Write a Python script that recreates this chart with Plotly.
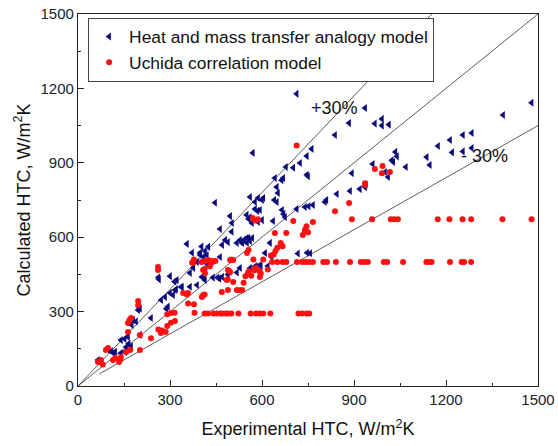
import plotly.graph_objects as go

# Heat and mass transfer analogy model (experimental, calculated)
hm_x = [713, 936, 884, 838, 968, 991, 991, 1014, 1386, 1479, 1284, 1255, 1213, 1174, 1220, 1255, 1284,
        1137, 1147, 1069, 1035, 1040, 1023, 1028, 1001, 1011, 961, 893, 887, 919, 936, 938, 844, 810, 805,
        766, 752, 740, 713, 750, 746, 746, 762, 724, 702, 678, 669, 642, 664, 648, 652, 640, 648, 604, 577,
        561, 570, 577, 593, 585, 665, 670, 675, 636, 600, 587, 567, 568, 717, 747, 757, 631, 561, 577, 593,
        535, 542, 550, 561, 587, 600, 550, 556, 560, 496, 502, 463, 501, 610, 626, 403, 425, 414, 398, 470,
        480, 489, 518, 528, 535, 551, 556, 398, 410, 420, 388, 414, 424, 463, 365, 376, 300, 322, 262, 264,
        404, 414, 410, 440, 455, 461, 470, 489, 494, 518, 528, 619, 365, 388, 316, 339, 284, 300, 315, 310,
        320, 336, 271, 288, 293, 238, 196, 198, 202, 170, 175, 180, 189, 202, 140, 152, 163, 157, 165, 173,
        98, 108, 115, 121, 140, 153, 65, 75, 447, 372, 355, 580, 596]
hm_y = [1178, 1121, 1060, 1012, 1058, 1077, 1050, 1054, 1093, 1142, 1020, 1012, 992, 968, 942, 946, 960,
        923, 891, 883, 944, 926, 910, 903, 863, 843, 895, 858, 786, 794, 802, 812, 774, 750, 742,
        730, 725, 722, 714, 846, 852, 927, 956, 899, 880, 883, 839, 839, 830, 802, 778, 750, 742, 758, 742,
        762, 940, 714, 710, 706, 710, 694, 681, 665, 669, 661, 657, 597, 534, 537, 535, 521, 476, 482, 488,
        577, 590, 597, 585, 758, 750, 690, 674, 680, 685, 657, 633, 622, 536, 577, 562, 561, 544, 537, 569,
        589, 580, 577, 589, 580, 577, 597, 528, 520, 528, 500, 500, 488, 520, 456, 476, 443, 427, 438, 430,
        440, 427, 435, 437, 437, 433, 440, 450, 460, 458, 476, 484, 400, 407, 387, 399, 359, 375, 421, 367,
        390, 399, 347, 311, 320, 274, 306, 319, 312, 256, 246, 266, 260, 206, 185, 190, 198, 157, 170, 160,
        145, 140, 133, 138, 133, 137, 105, 93, 739, 537, 573, 483, 483]

# Uchida correlation model (experimental, calculated)
uc_x = [893, 959, 1020, 1031, 1043, 1173, 1211, 1254, 1282, 1384, 1479,
        633, 650, 667, 679, 714, 731, 742, 754, 766, 800, 812, 841, 887, 922, 933, 945, 997, 1008, 1060,
        1136, 1144, 1153, 1213, 1251, 1259, 1282,
        372, 376, 403, 414, 425, 437, 496, 506,
        413, 424, 442, 453, 465, 471, 482, 488, 500, 523, 563, 580, 592, 604, 627, 719, 731, 745, 754,
        713, 993, 968, 991, 1017, 936, 936, 884, 838, 766, 745, 741, 733, 750, 740, 702, 679, 642, 661, 667,
        650, 644, 638, 629, 570, 577, 587, 572, 604, 551, 556, 580, 592, 596, 575, 557, 554, 565, 593, 619,
        546, 540, 527, 518, 535, 506, 485, 489, 469, 488, 496, 489, 500, 448, 436, 430, 413, 408, 414, 378,
        413, 404, 408, 343, 359, 355, 359, 378, 380, 315, 303, 291, 316, 303, 291, 274, 286, 270, 262, 238,
        261, 261, 196, 196, 163, 168, 173, 163, 202, 202, 157, 170, 91, 98, 114, 121, 134, 140, 138, 65, 75, 81]
uc_y = [672, 672, 672, 672, 672, 672, 672, 672, 672, 672, 672,
        500, 500, 500, 500, 500, 500, 500, 500, 500, 500, 500, 500, 500, 500, 500, 500, 500, 500, 500,
        500, 500, 500, 500, 500, 500, 500,
        497, 497, 500, 504, 508, 504, 508, 508,
        292, 292, 292, 292, 292, 292, 292, 292, 292, 292, 292, 292, 292, 292, 292, 292, 292, 292, 292,
        970, 887, 875, 858, 863, 818, 810, 738, 705, 661, 644, 631, 609, 620, 625, 665, 617, 617, 577, 564,
        557, 544, 530, 526, 677, 667, 672, 510, 510, 536, 548, 477, 463, 454, 467, 463, 455, 445, 440, 470,
        443, 416, 386, 387, 387, 419, 427, 387, 379, 430, 460, 468, 510, 504, 497, 483, 472, 468, 455, 510,
        369, 359, 367, 375, 375, 369, 333, 330, 295, 295, 294, 289, 262, 255, 242, 224, 218, 214, 228, 193,
        468, 480, 327, 343, 254, 266, 274, 218, 206, 145, 137, 145, 145, 153, 105, 113, 97, 117, 107, 97, 105, 87]

# reference lines: ratio, start x, end x
ref_ratio = [1.0, 1.3, 0.7]
ref_x0 = [0, 0, 70]
ref_x1 = [1500, 1500 / 1.3, 1500]
ref_labels = ["+30%", "- 30%"]
ref_label_x = [836, 1327]
ref_label_y = [1121, 927]

FONT = "Liberation Sans, Arial"

fig = go.Figure()
for r, a, b in zip(ref_ratio, ref_x0, ref_x1):
    fig.add_trace(go.Scatter(x=[a, b], y=[a * r, b * r], mode="lines",
                             line=dict(color="#333333", width=0.8),
                             showlegend=False, hoverinfo="skip"))

fig.add_trace(go.Scatter(x=hm_x, y=hm_y, mode="markers", name="Heat and mass transfer analogy model",
                         marker=dict(symbol="triangle-left", size=7, color="#0b0b80")))
fig.add_trace(go.Scatter(x=uc_x, y=uc_y, mode="markers", name="Uchida correlation model",
                         marker=dict(symbol="circle", size=6, color="#ff1010")))

for t, x, y in zip(ref_labels, ref_label_x, ref_label_y):
    fig.add_annotation(x=x, y=y, text=t, showarrow=False,
                       font=dict(size=18, color="#111111", family=FONT))

axis_common = dict(showline=True, linecolor="#222222", linewidth=1.2, mirror=True,
                   ticks="inside", ticklen=6, tickcolor="#222222", showgrid=False, zeroline=False,
                   tickfont=dict(size=15, color="#222222", family=FONT),
                   minor=dict(ticks="inside", ticklen=3, tickcolor="#222222", dtick=150, showgrid=False))

fig.update_layout(
    width=558, height=446,
    margin=dict(l=78, r=20, t=14, b=60),
    paper_bgcolor="white", plot_bgcolor="white",
    font=dict(family=FONT, color="#111111"),
    xaxis=dict(range=[0, 1500], tickvals=[0, 300, 600, 900, 1200, 1500], automargin=False,
               title=dict(text="Experimental HTC, W/m<sup>2</sup>K", font=dict(size=18)),
               **axis_common),
    yaxis=dict(range=[0, 1500], tickvals=[0, 300, 600, 900, 1200, 1500], automargin="left",
               title=dict(text="Calculated HTC, W/m<sup>2</sup>K", font=dict(size=18), standoff=5),
               **axis_common),
    legend=dict(x=0.022, y=0.99, xanchor="left", yanchor="top",
                bordercolor="#444444", borderwidth=1, bgcolor="white",
                font=dict(size=17.4, color="#111111"), tracegroupgap=0),
    showlegend=True,
)

fig.write_html("out.html", config={"displayModeBar": False},
               post_script="document.body.style.margin='0px';")
